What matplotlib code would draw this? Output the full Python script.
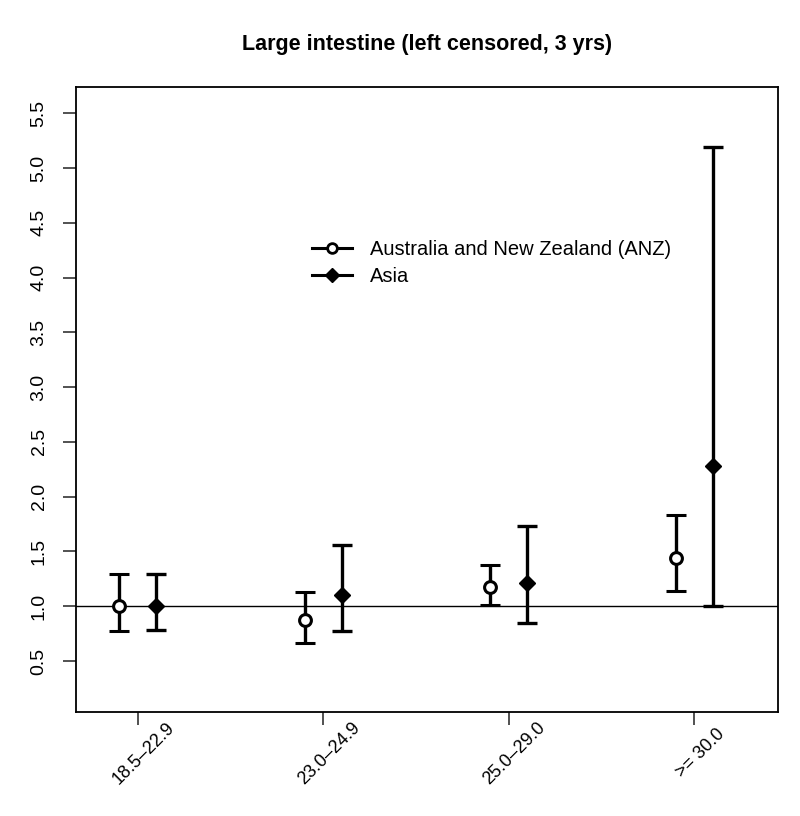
import numpy as np
import matplotlib.pyplot as plt
import matplotlib.transforms as mtransforms
from matplotlib.lines import Line2D

plt.rcParams['font.family'] = ['Liberation Sans', 'DejaVu Sans']

categories = ['18.5\u201322.9', '23.0\u201324.9', '25.0\u201329.0', '>= 30.0']
anz_est = [1.00, 0.87, 1.18, 1.44]
anz_lo = [0.77, 0.66, 1.01, 1.14]
anz_hi = [1.29, 1.13, 1.38, 1.83]
asia_est = [1.00, 1.10, 1.21, 2.28]
asia_lo = [0.78, 0.77, 0.85, 1.00]
asia_hi = [1.29, 1.56, 1.73, 5.19]

fig = plt.figure(figsize=(8, 8.16), dpi=100)
ax = fig.add_axes([0.095, 0.1275, 0.878, 0.7655])

x = np.arange(1, len(categories) + 1)
off = 0.1

ax.axhline(1.0, color='black', lw=1.0, zorder=1)

anz_est = np.array(anz_est)
asia_est = np.array(asia_est)
ax.errorbar(x - off, anz_est,
            yerr=[anz_est - np.array(anz_lo), np.array(anz_hi) - anz_est],
            fmt='o', color='black', mfc='white', mec='black', mew=2.2, ms=8.5,
            elinewidth=2.4, capsize=7.5, capthick=2.4, zorder=3)
ax.errorbar(x + off, asia_est,
            yerr=[asia_est - np.array(asia_lo), np.array(asia_hi) - asia_est],
            fmt='D', color='black', ms=8, elinewidth=2.4, capsize=7.5,
            capthick=2.4, zorder=3)

ax.set_xlim(0.666, 4.455)
ax.set_ylim(0.035, 5.737)
ax.set_xticks(x)
ax.set_xticklabels([])
# rotated category labels, centred a little right of each tick
lab_tr = ax.get_xaxis_transform() + mtransforms.ScaledTranslation(
    6 / 100, -41.5 / 100, fig.dpi_scale_trans)
for xi, lab in zip(x, categories):
    ax.text(xi, 0, lab, transform=lab_tr, rotation=45, ha='center',
            va='center', rotation_mode='anchor', fontsize=13)

yt = np.arange(0.5, 5.51, 0.5)
ax.set_yticks(yt)
ax.set_yticklabels(['%.1f' % v for v in yt], rotation=90, va='center', fontsize=14)
ax.tick_params(axis='both', direction='out', length=9.5, width=1.2, color='#333333')
ax.tick_params(axis='y', pad=11)
for s in ax.spines.values():
    s.set_linewidth(1.3)

ax.set_title('Large intestine (left censored, 3 yrs)', fontsize=15.5,
             fontweight='bold', pad=27)

handles = [
    Line2D([], [], color='black', lw=2.2, marker='o', mfc='white', mew=2, ms=7),
    Line2D([], [], color='black', lw=2.2, marker='D', ms=7),
]
ax.legend(handles, ['Australia and New Zealand (ANZ)', 'Asia'], frameon=False,
          loc='upper left', bbox_to_anchor=(0.336, 0.755), fontsize=14.5,
          handlelength=2.0, handletextpad=0.9, labelspacing=0.4,
          borderpad=0, borderaxespad=0)

fig.savefig('out.png', dpi=100)
